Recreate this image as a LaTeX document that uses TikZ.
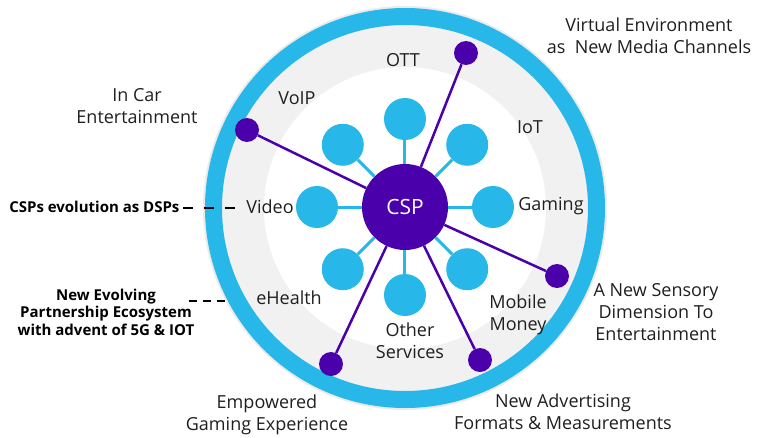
\documentclass[tikz,border=0pt]{standalone}
\usepackage{fontspec}
\setmainfont{Open Sans}

\definecolor{ringblue}{HTML}{27B8E9}
\definecolor{cspviolet}{HTML}{4A00AA}
\definecolor{bandgray}{HTML}{F1F1F1}

\begin{document}
\begin{tikzpicture}[x=1pt, y=1pt,
    sat/.style={circle, fill=ringblue, minimum size=42pt, inner sep=0pt},
    dot/.style={circle, fill=cspviolet, minimum size=24pt, inner sep=0pt},
    spoke/.style={ringblue, line width=3pt},
    link/.style={cspviolet, line width=2.5pt},
    lbl/.style={align=center, text=black!88, font=\fontsize{18}{22}\selectfont},
    note/.style={align=center, text=black, font=\fontsize{15}{17.5}\selectfont\bfseries},
    guide/.style={line width=2.5pt, dash pattern=on 10pt off 11pt}]

    \useasboundingbox (-405,-230) rectangle (358,207);

    \fill [black!8] (0,-1) circle (202);
    \fill [bandgray] (0,-1) circle (183);
    \draw [ringblue, line width=17pt] (0,-1) circle (191.5);
    \fill [white] (0,-1) circle (141);

    \node [circle, fill=cspviolet, minimum size=86pt, inner sep=0pt, text=white,
        font=\fontsize{21}{25}\selectfont] (csp) at (0,0) {CSP};

    \foreach \ang/\name in {0/gaming, 45/iot, 90/ott, 135/voip, 180/video, 225/ehealth, 270/other, 315/mobile} {
        \node [sat] (sat-\name) at (\ang:88) {};
        \draw [spoke] (csp) -- (sat-\name);
    }

    \node [dot] (d-virtual) at (61,154) {};
    \node [dot] (d-car) at (-158,77) {};
    \node [dot] (d-sensory) at (152,-69) {};
    \node [dot] (d-gaming) at (-74,-157) {};
    \node [dot] (d-advert) at (75,-153) {};
    \foreach \d in {virtual, car, sensory, gaming, advert}
        \draw [link] (csp) -- (d-\d);

    \node [lbl] (ott) at (-2,147) {OTT};
    \node [lbl] (voip) at (-108,109) {VoIP};
    \node [lbl] (iot) at (125,80) {IoT};
    \node [lbl] (video) at (-135,0) {Video};
    \node [lbl] (gaming) at (146,1) {Gaming};
    \node [lbl] (ehealth) at (-116,-91) {eHealth};
    \node [lbl] (mobile) at (113,-108) {Mobile\\Money};
    \node [lbl] (other) at (5,-134) {Other\\Services};

    \node [lbl] (virtual) at (244,171) {Virtual Environment\\as~ New Media Channels};
    \node [lbl] (car) at (-268,101) {In Car\\Entertainment};
    \node [lbl] (sensory) at (251,-105) {A New Sensory\\Dimension To\\Entertainment};
    \node [lbl] (empowered) at (-138,-208) {Empowered\\Gaming Experience};
    \node [lbl] (advert) at (158,-205) {New Advertising\\Formats \& Measurements};

    \node [note, anchor=east] (dsp) at (-222,0) {CSPs evolution as DSPs};
    \coordinate (dsp-end) at (-165,-1);
    \draw [guide] (dsp.east) ++(0,-1) -- (dsp-end);

    \node [note] (eco) at (-299,-105) {New Evolving\\Partnership Ecosystem\\with advent of 5G \& IOT};
    \coordinate (eco-a) at (-216,-94);
    \coordinate (eco-b) at (-180,-94);
    \draw [guide, dash pattern=on 8pt off 6pt] (eco-a) -- (eco-b);
\end{tikzpicture}
\end{document}
